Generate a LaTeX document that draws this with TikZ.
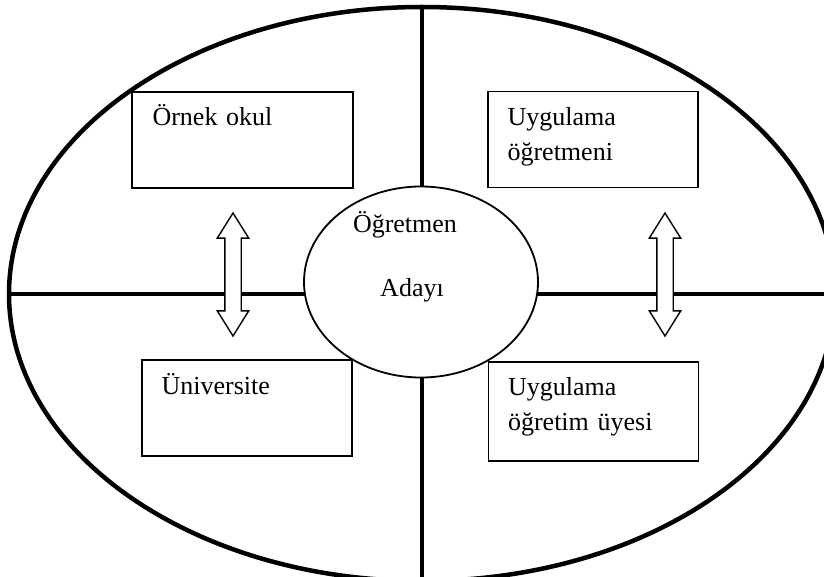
\documentclass[tikz,border=0pt]{standalone}
\usepackage{fontspec}
\setmainfont{Liberation Serif}
\usetikzlibrary{calc, positioning, shapes.geometric, shapes.arrows}

\begin{document}
\begin{tikzpicture}[x = 1pt, y = -1pt]%
    %
    \def\kutuwidth{210pt}%
    \def\kutuheight{96pt}%
    %
    \tikzstyle{kalin} = [line width = 4.5pt, draw = black]%
    \tikzstyle{kutu} = [draw = black, line width = 1.3pt, minimum width = \kutuwidth, minimum height = \kutuheight, inner sep = 0pt]%
    \tikzstyle{yazi} = [font = \fontsize{26}{35}\selectfont, inner sep = 0pt, text width = 185pt, align = left, anchor = base west]%
    \tikzstyle{orta} = [font = \fontsize{26}{35}\selectfont, inner sep = 0pt, anchor = base]%
    \tikzstyle{ok} = [double arrow, draw = black, fill = white, line width = 1.4pt, rotate = 90, minimum height = 123pt, double arrow head extend = 7.5pt, double arrow tip angle = 64, inner xsep = 0pt, inner ysep = 7.5pt]%
    %
    \useasboundingbox (0, 0) rectangle (824, 577);%
    \clip (0, 0) rectangle (824, 577);%
    %
    % Outer ellipse and cross
    \node (dis) [kalin, ellipse, minimum width = 826pt, minimum height = 574pt] at (422, 294) {};%
    \draw [kalin] (dis.west) -- (dis.east);%
    \draw [kalin] (dis.north) -- (dis.south);%
    %
    % Center
    \node (aday) [ellipse, draw = black, fill = white, line width = 1.8pt, minimum width = 234pt, minimum height = 191pt] at (421, 282) {};%
    \node (adayust) [orta] at (405, 233) {Öğretmen};%
    \node (adayalt) [orta] at (412, 296) {Adayı};%
    %
    % Boxes
    \node (okul) [kutu, minimum width = 221pt] at (242.5, 140) {};%
    \node (ogretmen) [kutu] at (593, 139.5) {};%
    \node (univ) [kutu] at (247, 408) {};%
    \node (uye) [kutu, minimum height = 99pt] at (593.5, 411.5) {};%
    %
    \node (okulyazi) [yazi] at ($(okul.north west) + (21, 34)$) {Örnek okul};%
    \node (ogretmenyazi) [yazi] at ($(ogretmen.north west) + (20, 35)$) {Uygulama\\öğretmeni};%
    \node (univyazi) [yazi] at ($(univ.north west) + (20, 35)$) {Üniversite};%
    \node (uyeyazi) [yazi] at ($(uye.north west) + (20, 34)$) {Uygulama\\öğretim üyesi};%
    %
    % Arrows
    \node (okleft) [ok] at (233, 274.5) {};%
    \node (okright) [ok] at (665, 274.5) {};%
    %
\end{tikzpicture}
\end{document}
